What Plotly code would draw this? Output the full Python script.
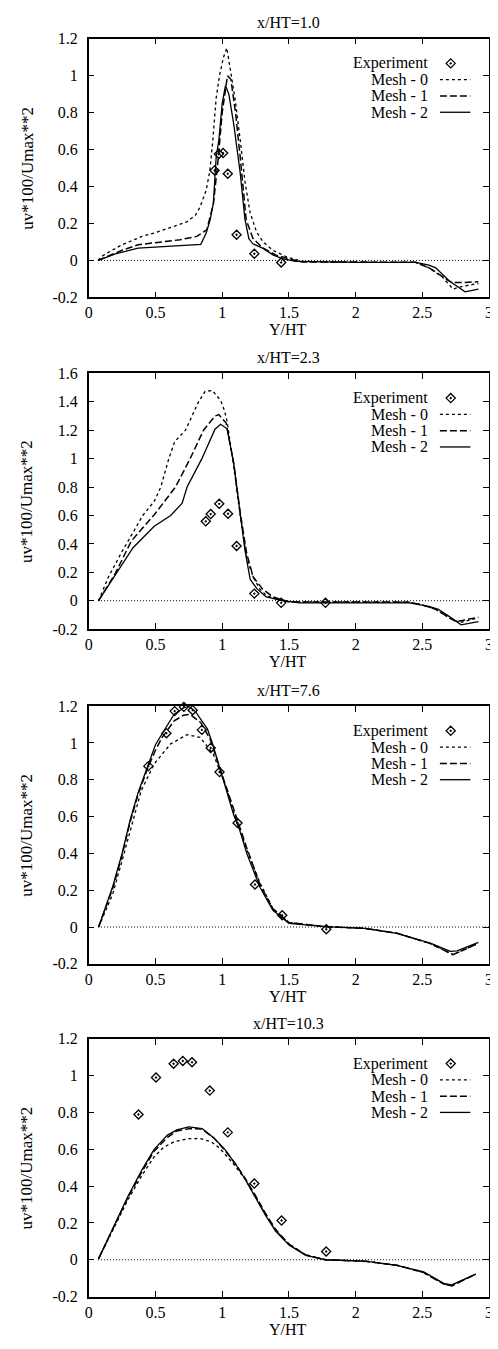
import plotly.graph_objects as go

# ---------------- data ----------------
titles = ["x/HT=1.0", "x/HT=2.3", "x/HT=7.6", "x/HT=10.3"]
series_names = ["Experiment", "Mesh - 0", "Mesh - 1", "Mesh - 2"]
x_tickvals = [0, 0.5, 1, 1.5, 2, 2.5, 3]
x_ticktext = ["0", "0.5", "1", "1.5", "2", "2.5", "3"]
y_tickvals_a = [-0.2, 0, 0.2, 0.4, 0.6, 0.8, 1.0, 1.2]
y_ticktext_a = ["-0.2", "0", "0.2", "0.4", "0.6", "0.8", "1", "1.2"]
y_tickvals_b = [-0.2, 0, 0.2, 0.4, 0.6, 0.8, 1.0, 1.2, 1.4, 1.6]
y_ticktext_b = ["-0.2", "0", "0.2", "0.4", "0.6", "0.8", "1", "1.2", "1.4", "1.6"]
y_ranges = [(-0.2, 1.2), (-0.2, 1.6), (-0.2, 1.2), (-0.2, 1.2)]
zero_x = [0.07, 3.0]
zero_y = [0, 0]

# panel 1 : x/HT = 1.0
p1_exp_x = [0.943, 0.975, 1.007, 1.042, 1.108, 1.241, 1.442]
p1_exp_y = [0.487, 0.576, 0.581, 0.469, 0.139, 0.036, -0.011]
p1_m0_x = [0.07, 0.1, 0.15, 0.25, 0.4, 0.49, 0.6, 0.737, 0.8, 0.835, 0.88, 0.908, 0.93, 0.955, 0.98, 1.01, 1.035,
           1.06, 1.098, 1.135, 1.172, 1.209, 1.258, 1.307, 1.38, 1.48, 1.6, 2.0, 2.45, 2.55, 2.65, 2.73, 2.8, 2.92]
p1_m0_y = [0, 0.023, 0.045, 0.085, 0.13, 0.148, 0.175, 0.21, 0.245, 0.29, 0.38, 0.486, 0.65, 0.88, 1.0, 1.1, 1.15,
           1.045, 0.867, 0.653, 0.42, 0.26, 0.153, 0.1, 0.055, 0.02, -0.005, -0.01, -0.01, -0.04, -0.09, -0.155, -0.14, -0.125]
p1_m1_x = [0.07, 0.147, 0.25, 0.37, 0.5, 0.685, 0.81, 0.885, 0.935, 0.97, 1.0, 1.04, 1.065, 1.1, 1.135, 1.18, 1.23,
           1.3, 1.4, 1.5, 1.6, 2.0, 2.45, 2.55, 2.65, 2.72, 2.8, 2.92]
p1_m1_y = [0, 0.023, 0.055, 0.085, 0.095, 0.112, 0.13, 0.166, 0.31, 0.55, 0.8, 1.0, 0.98, 0.8, 0.56, 0.22, 0.12,
           0.07, 0.03, 0.008, -0.008, -0.01, -0.01, -0.04, -0.09, -0.12, -0.12, -0.115]
p1_m2_x = [0.07, 0.2, 0.37, 0.5, 0.62, 0.84, 0.88, 0.91, 0.934, 0.955, 0.975, 1.0, 1.025, 1.05, 1.086, 1.135,
           1.17, 1.2, 1.23, 1.31, 1.38, 1.45, 1.55, 2.0, 2.45, 2.55, 2.6, 2.7, 2.82, 2.92]
p1_m2_y = [0, 0.035, 0.067, 0.072, 0.076, 0.087, 0.148, 0.22, 0.31, 0.56, 0.65, 0.85, 0.947, 0.9, 0.74, 0.475,
           0.225, 0.118, 0.09, 0.064, 0.03, 0.01, -0.005, -0.01, -0.01, -0.025, -0.04, -0.11, -0.17, -0.155]

# panel 2 : x/HT = 2.3
p2_exp_x = [0.877, 0.914, 0.978, 1.044, 1.108, 1.241, 1.442, 1.774]
p2_exp_y = [0.559, 0.61, 0.682, 0.612, 0.385, 0.05, -0.015, -0.015]
p2_m0_x = [0.074, 0.147, 0.246, 0.405, 0.491, 0.54, 0.6, 0.644, 0.725, 0.823, 0.872, 0.926, 0.988, 1.017, 1.037,
           1.086, 1.135, 1.184, 1.233, 1.28, 1.33, 1.43, 1.5, 2.4, 2.5, 2.6, 2.7, 2.78, 2.92]
p2_m0_y = [0, 0.166, 0.34, 0.6, 0.7, 0.8, 1.0, 1.12, 1.2, 1.4, 1.473, 1.48, 1.41, 1.34, 1.26,
           0.95, 0.6, 0.30, 0.166, 0.085, 0.038, 0.004, -0.008, -0.01, -0.03, -0.06, -0.12, -0.155, -0.12]
p2_m1_x = [0.074, 0.197, 0.319, 0.491, 0.65, 0.76, 0.86, 0.946, 0.975, 1.012, 1.03, 1.086, 1.135, 1.184,
           1.233, 1.3, 1.38, 1.5, 2.4, 2.5, 2.6, 2.7, 2.756, 2.92]
p2_m1_y = [0, 0.188, 0.42, 0.605, 0.8, 1.0, 1.2, 1.3, 1.31, 1.265, 1.25, 0.97, 0.62, 0.33,
           0.166, 0.085, 0.027, -0.008, -0.01, -0.03, -0.06, -0.12, -0.147, -0.117]
p2_m2_x = [0.074, 0.197, 0.332, 0.491, 0.614, 0.7, 0.737, 0.848, 0.946, 0.988, 1.037, 1.086, 1.135, 1.17,
           1.21, 1.26, 1.33, 1.45, 1.58, 2.4, 2.55, 2.62, 2.7, 2.79, 2.92]
p2_m2_y = [0, 0.177, 0.373, 0.524, 0.6, 0.686, 0.8, 1.0, 1.207, 1.242, 1.21, 0.97, 0.63, 0.36,
           0.15, 0.085, 0.027, 0, -0.015, -0.015, -0.04, -0.06, -0.11, -0.17, -0.147]

# panel 3 : x/HT = 7.6
p3_exp_x = [0.447, 0.582, 0.644, 0.713, 0.779, 0.848, 0.914, 0.98, 1.115, 1.246, 1.45, 1.78]
p3_exp_y = [0.874, 1.053, 1.173, 1.196, 1.178, 1.071, 0.973, 0.842, 0.565, 0.231, 0.064, -0.012]
p3_m0_x = [0.074, 0.18, 0.25, 0.319, 0.393, 0.491, 0.614, 0.737, 0.835, 0.933, 1.03, 1.08, 1.135, 1.184,
           1.283, 1.38, 1.5, 1.77, 2.07, 2.31, 2.56, 2.73, 2.92]
p3_m0_y = [0, 0.18, 0.36, 0.55, 0.74, 0.887, 0.995, 1.045, 1.03, 0.94, 0.76, 0.637, 0.52, 0.42,
           0.24, 0.1, 0.025, 0.002, -0.007, -0.034, -0.09, -0.15, -0.088]
p3_m1_x = [0.074, 0.18, 0.25, 0.31, 0.37, 0.44, 0.5, 0.55, 0.64, 0.71, 0.76, 0.84, 0.91, 0.98, 1.056, 1.105,
           1.184, 1.283, 1.38, 1.5, 1.77, 2.07, 2.31, 2.56, 2.73, 2.92]
p3_m1_y = [0, 0.21, 0.39, 0.57, 0.72, 0.86, 0.96, 1.03, 1.12, 1.15, 1.155, 1.11, 1.02, 0.87, 0.7, 0.6,
           0.43, 0.23, 0.1, 0.025, 0.002, -0.007, -0.034, -0.09, -0.15, -0.088]
p3_m2_x = [0.074, 0.18, 0.25, 0.31, 0.37, 0.44, 0.5, 0.55, 0.64, 0.71, 0.75, 0.8, 0.85, 0.89, 0.93, 0.98,
           1.04, 1.086, 1.13, 1.184, 1.283, 1.38, 1.5, 1.77, 2.07, 2.31, 2.56, 2.71, 2.76, 2.92]
p3_m2_y = [0, 0.22, 0.4, 0.58, 0.73, 0.87, 0.99, 1.05, 1.156, 1.19, 1.2, 1.17, 1.12, 1.075, 0.99, 0.87,
           0.72, 0.61, 0.53, 0.4, 0.216, 0.091, 0.02, 0.002, -0.007, -0.034, -0.088, -0.132, -0.13, -0.084]

# panel 4 : x/HT = 10.3
p4_exp_x = [0.373, 0.504, 0.636, 0.705, 0.774, 0.907, 1.042, 1.241, 1.445, 1.779]
p4_exp_y = [0.789, 0.99, 1.065, 1.08, 1.073, 0.919, 0.692, 0.414, 0.213, 0.045]
p4_m0_x = [0.074, 0.177, 0.295, 0.4, 0.491, 0.56, 0.639, 0.75, 0.835, 0.92, 0.983, 1.08, 1.17, 1.24, 1.326,
           1.4, 1.5, 1.627, 1.774, 2.07, 2.31, 2.51, 2.66, 2.72, 2.9]
p4_m0_y = [0.006, 0.16, 0.328, 0.46, 0.56, 0.61, 0.641, 0.658, 0.659, 0.64, 0.605, 0.525, 0.44, 0.355, 0.245,
           0.16, 0.085, 0.026, 0, -0.008, -0.03, -0.07, -0.132, -0.142, -0.078]
p4_m1_x = [0.074, 0.177, 0.295, 0.4, 0.49, 0.59, 0.66, 0.75, 0.85, 0.94, 1.02, 1.1, 1.17, 1.24, 1.326,
           1.4, 1.5, 1.627, 1.774, 2.07, 2.31, 2.51, 2.66, 2.72, 2.9]
p4_m1_y = [0.006, 0.165, 0.34, 0.48, 0.59, 0.665, 0.7, 0.712, 0.71, 0.66, 0.595, 0.52, 0.445, 0.36, 0.25,
           0.165, 0.085, 0.026, 0, -0.008, -0.03, -0.07, -0.132, -0.142, -0.078]
p4_m2_x = [0.074, 0.177, 0.295, 0.4, 0.49, 0.59, 0.66, 0.75, 0.85, 0.94, 1.02, 1.1, 1.17, 1.24, 1.326,
           1.4, 1.5, 1.627, 1.774, 2.07, 2.31, 2.51, 2.66, 2.72, 2.9]
p4_m2_y = [0.006, 0.167, 0.346, 0.49, 0.6, 0.677, 0.705, 0.722, 0.713, 0.66, 0.6, 0.52, 0.44, 0.35, 0.24,
           0.155, 0.08, 0.024, 0, -0.008, -0.03, -0.066, -0.128, -0.137, -0.078]

panels = [
    (p1_exp_x, p1_exp_y, p1_m0_x, p1_m0_y, p1_m1_x, p1_m1_y, p1_m2_x, p1_m2_y),
    (p2_exp_x, p2_exp_y, p2_m0_x, p2_m0_y, p2_m1_x, p2_m1_y, p2_m2_x, p2_m2_y),
    (p3_exp_x, p3_exp_y, p3_m0_x, p3_m0_y, p3_m1_x, p3_m1_y, p3_m2_x, p3_m2_y),
    (p4_exp_x, p4_exp_y, p4_m0_x, p4_m0_y, p4_m1_x, p4_m1_y, p4_m2_x, p4_m2_y),
]

# ---------------- layout geometry (page pixels) ----------------
W, H = 498, 1349
OFF = 8                      # default page body margin
FW, FH = W - OFF, H - OFF    # figure size so that the page does not overflow
LEFT, RIGHT = 86, 493
TOPS = [31, 370, 707, 1044]
BOTTOMS = [293, 629, 968, 1305]
FONT = "Liberation Serif, Times New Roman, serif"
FS = 16

def fx(p):
    return (p - OFF) / FW

def fy(p):
    return 1 - (p - OFF) / FH

line_styles = [
    dict(color="black", width=1.3, dash="3px,3px"),
    dict(color="black", width=1.5, dash="7px,3px"),
    dict(color="black", width=1.3),
]
marker_style = dict(symbol="diamond-open-dot", size=7, color="black", line=dict(width=1.3, color="black"))

fig = go.Figure()
layout_axes = {}
annotations = []
shapes = []

for i, data in enumerate(panels):
    n = "" if i == 0 else str(i + 1)
    xa, ya = "x" + n, "y" + n
    ex, ey, m0x, m0y, m1x, m1y, m2x, m2y = data
    ymin, ymax = y_ranges[i]
    top, bot = TOPS[i], BOTTOMS[i]

    fig.add_trace(go.Scatter(x=zero_x, y=zero_y, mode="lines", xaxis=xa, yaxis=ya,
                             line=dict(color="black", width=1, dash="1px,2px"), showlegend=False))
    for (lx, ly), st in zip([(m0x, m0y), (m1x, m1y), (m2x, m2y)], line_styles):
        fig.add_trace(go.Scatter(x=lx, y=ly, mode="lines", xaxis=xa, yaxis=ya, line=st, showlegend=False))
    fig.add_trace(go.Scatter(x=ex, y=ey, mode="markers", xaxis=xa, yaxis=ya, marker=marker_style,
                             showlegend=False, cliponaxis=False))

    # legend (gnuplot style: text right-aligned, sample on the right)
    leg_rows = [top + 25, top + 41.5, top + 58, top + 74.5]
    for j, (name, ry) in enumerate(zip(series_names, leg_rows)):
        annotations.append(dict(text=name, x=fx(433), y=fy(ry), xref="paper", yref="paper",
                                xanchor="right", yanchor="middle", showarrow=False,
                                font=dict(family=FONT, size=FS, color="black")))
        if j == 0:
            sx = (454 - LEFT) / (RIGHT - LEFT) * 3.0
            sy = ymax - (ry - top) / (bot - top) * (ymax - ymin)
            fig.add_trace(go.Scatter(x=[sx], y=[sy], mode="markers", xaxis=xa, yaxis=ya,
                                     marker=marker_style, showlegend=False))
        else:
            st = line_styles[j - 1]
            shapes.append(dict(type="line", xref="paper", yref="paper",
                               x0=fx(443), x1=fx(474), y0=fy(ry), y1=fy(ry),
                               line=dict(color="black", width=st["width"], dash=st.get("dash", "solid"))))

    annotations.append(dict(text=titles[i], x=fx(289), y=fy(top - 16), xref="paper", yref="paper",
                            xanchor="center", yanchor="middle", showarrow=False,
                            font=dict(family=FONT, size=FS, color="black")))
    annotations.append(dict(text="Y/HT", x=fx(289), y=fy(bot + 33), xref="paper", yref="paper",
                            xanchor="center", yanchor="middle", showarrow=False,
                            font=dict(family=FONT, size=FS, color="black")))
    annotations.append(dict(text="uv*100/Umax**2", x=fx(23), y=fy((top + bot) / 2), xref="paper",
                            yref="paper", xanchor="center", yanchor="middle", textangle=-90,
                            showarrow=False, font=dict(family=FONT, size=FS + 1, color="black")))

    yt_v, yt_t = (y_tickvals_b, y_ticktext_b) if i == 1 else (y_tickvals_a, y_ticktext_a)
    common = dict(showline=True, linecolor="black", linewidth=1.5, mirror="ticks", ticks="inside",
                  ticklen=6, tickwidth=1.2, tickcolor="black", showgrid=False, zeroline=False,
                  tickfont=dict(family=FONT, size=FS, color="black"))
    layout_axes["xaxis" + n] = dict(domain=[fx(LEFT), fx(RIGHT)], range=[0, 3], anchor=ya,
                                    tickvals=x_tickvals, ticktext=x_ticktext, ticklabelstandoff=0, **common)
    layout_axes["yaxis" + n] = dict(domain=[fy(bot), fy(top)], range=[ymin, ymax], anchor=xa,
                                    tickvals=yt_v, ticktext=yt_t, ticklabelstandoff=6, **common)

fig.update_layout(width=FW, height=FH, margin=dict(l=0, r=0, t=0, b=0),
                  paper_bgcolor="white", plot_bgcolor="white",
                  annotations=annotations, shapes=shapes, showlegend=False, **layout_axes)

fig.write_html("out.html")
